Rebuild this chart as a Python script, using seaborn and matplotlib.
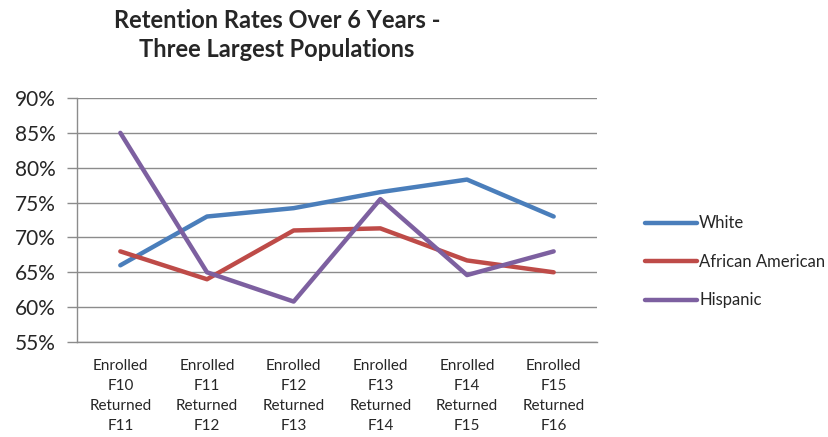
import seaborn as sns
import pandas as pd
import matplotlib.pyplot as plt
from matplotlib.ticker import FuncFormatter, FixedLocator

categories = ['Enrolled\nF10\nReturned\nF11', 'Enrolled\nF11\nReturned\nF12',
              'Enrolled\nF12\nReturned\nF13', 'Enrolled\nF13\nReturned\nF14',
              'Enrolled\nF14\nReturned\nF15', 'Enrolled\nF15\nReturned\nF16']
white = [66.0, 73.0, 74.2, 76.5, 78.3, 73.0]
african_american = [68.0, 64.0, 71.0, 71.3, 66.7, 65.0]
hispanic = [85.0, 65.0, 60.8, 75.5, 64.6, 68.0]
series_names = ['White', 'African American', 'Hispanic']
colors = ['#4A7EBB', '#BE4B48', '#7D60A0']

df = pd.DataFrame({
    'period': categories * 3,
    'rate': white + african_american + hispanic,
    'group': [s for s in series_names for _ in categories],
})

sns.set_style('white')
plt.rcParams['font.family'] = ['Lato', 'DejaVu Sans']

fig = plt.figure(figsize=(8.29, 4.37), dpi=100)
ax = fig.add_axes([77 / 829, 1 - 342 / 437, 520 / 829, 244 / 437])

sns.lineplot(data=df, x='period', y='rate', hue='group', palette=colors,
             hue_order=series_names, linewidth=3.2, sort=False, ax=ax, legend=True)

ax.set_xlim(-0.5, len(categories) - 0.5)
ax.set_ylim(55, 90)
ax.set_yticks(range(55, 91, 5))
ax.yaxis.set_major_formatter(FuncFormatter(lambda v, p: f'{v:.0f}%'))
ax.grid(axis='y', color='#8C8C8C', linewidth=1)
ax.set_axisbelow(True)
ax.set_xlabel('')
ax.set_ylabel('')

ax.set_xticks(range(len(categories)))
ax.set_xticklabels(categories, fontsize=11, linespacing=1.55)
ax.xaxis.set_minor_locator(FixedLocator([i - 0.5 for i in range(len(categories) + 1)]))
ax.tick_params(axis='x', which='major', length=0, pad=12)
ax.tick_params(axis='x', which='minor', length=5, color='#8C8C8C', width=1)
ax.tick_params(axis='y', labelsize=15, length=7, color='#8C8C8C', width=1, left=True, pad=8)

for side in ['top', 'right']:
    ax.spines[side].set_visible(False)
for side in ['left', 'bottom']:
    ax.spines[side].set_color('#8C8C8C')
    ax.spines[side].set_linewidth(1)

handles, labels = ax.get_legend_handles_labels()
ax.legend(handles, labels, loc='center left', bbox_to_anchor=(630 / 829, 1 - 262 / 437),
          bbox_transform=fig.transFigure, frameon=False, fontsize=12,
          handlelength=3.1, handletextpad=0.15, labelspacing=1.35)

fig.text(277 / 829, 1 - 35 / 437, 'Retention Rates Over 6 Years -\nThree Largest Populations',
         ha='center', va='center', fontsize=17, fontweight='bold', linespacing=1.35)

fig.savefig('out.png', dpi=100)
